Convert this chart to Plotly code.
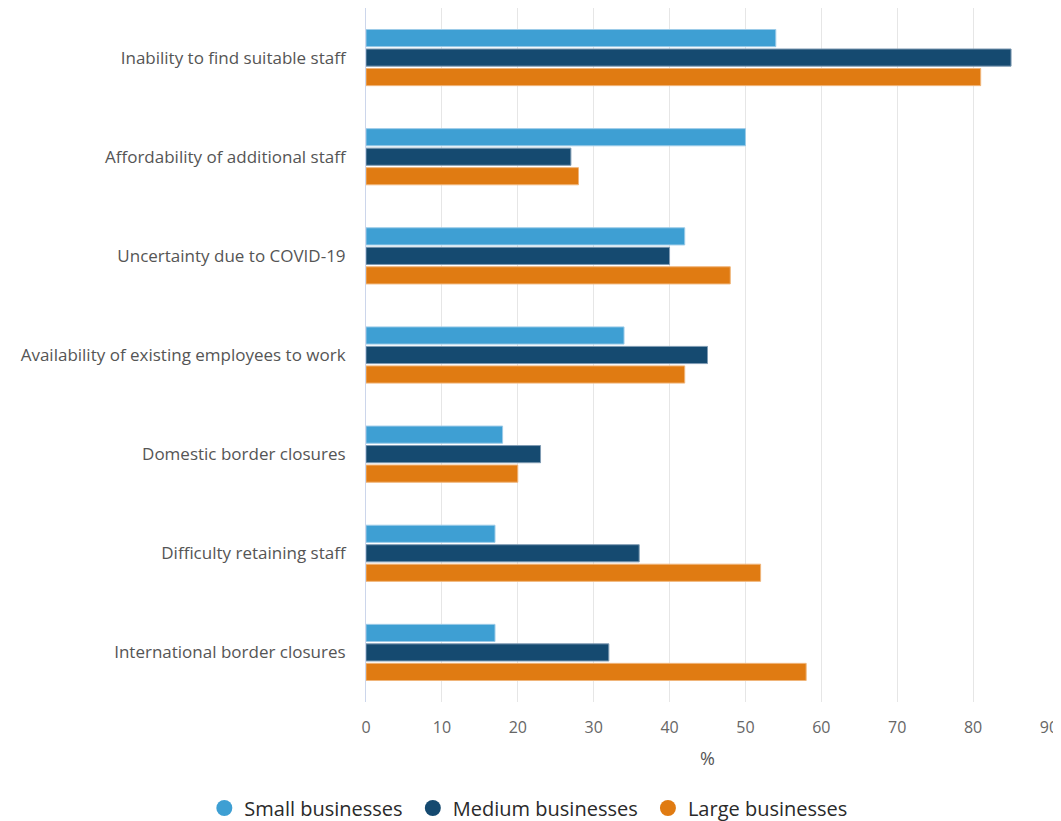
import plotly.graph_objects as go

categories = [
    "Inability to find suitable staff",
    "Affordability of additional staff",
    "Uncertainty due to COVID-19",
    "Availability of existing employees to work",
    "Domestic border closures",
    "Difficulty retaining staff",
    "International border closures",
]
small = [54, 50, 42, 34, 18, 17, 17]
medium = [85, 27, 40, 45, 23, 36, 32]
large = [81, 28, 48, 42, 20, 52, 58]
series_names = ["Small businesses", "Medium businesses", "Large businesses"]
x_ticks = [0, 10, 20, 30, 40, 50, 60, 70, 80, 90]
x_tick_labels = ["0", "10", "20", "30", "40", "50", "60", "70", "80", "90"]

colors = ["#3E9FD3", "#154A70", "#E07B12"]
edge = ["#9ccbe8", "#7f9bb3", "#f0b57a"]

fig = go.Figure()
for name, vals, c, e in zip(series_names, [small, medium, large], colors, edge):
    fig.add_trace(go.Bar(
        y=categories, x=vals, name=name, orientation="h",
        marker=dict(color=c, line=dict(color=e, width=1)),
        showlegend=False,
    ))
    fig.add_trace(go.Scatter(
        x=[None], y=[None], mode="markers", name=name + "\u00a0",
        marker=dict(color=c, size=20, symbol="circle"),
        showlegend=True,
    ))

fig.update_layout(
    width=1053, height=813,
    margin=dict(l=358, r=12, t=0, b=119),
    paper_bgcolor="white", plot_bgcolor="white",
    barmode="group", bargap=0.41, bargroupgap=0.12,
    font=dict(family="Open Sans", color="#666666", size=16),
    legend=dict(
        orientation="h", xref="container", yref="container",
        x=0.497, xanchor="center", y=0.016, yanchor="middle",
        font=dict(size=20, color="#2a2a2a"),
        itemsizing="trace", itemwidth=30, tracegroupgap=0,
    ),
    showlegend=True,
)
fig.update_xaxes(
    range=[0, 90], tickvals=x_ticks, ticktext=x_tick_labels,
    automargin=False,
    showgrid=True, gridcolor="#e6e6e6", gridwidth=1,
    zeroline=False, showline=False,
    ticks="outside", ticklen=11, tickcolor="rgba(0,0,0,0)",
    tickfont=dict(size=16, color="#666666"),
    title=dict(text="%", font=dict(size=18, color="#555555"), standoff=15),
)
fig.update_yaxes(
    autorange="reversed", showgrid=False, zeroline=False,
    showline=True, linecolor="#ccd6eb", linewidth=1,
    ticks="outside", ticklen=16, tickcolor="rgba(0,0,0,0)",
    tickfont=dict(size=17, color="#555555"),
)

fig.write_html("out.html")
